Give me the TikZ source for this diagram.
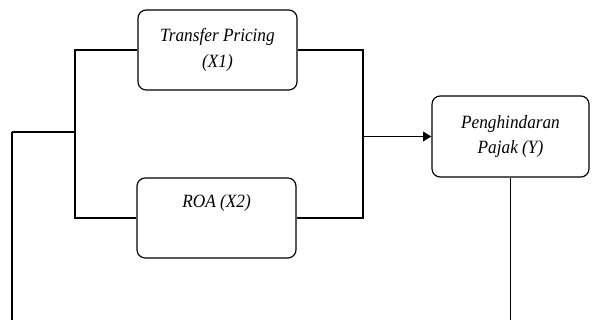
\documentclass[tikz,border=0pt]{standalone}
\usepackage{fontspec}
\setmainfont{Liberation Serif}[FakeStretch=0.92]
\usepackage{tikz}
\usetikzlibrary{arrows.meta}

\begin{document}
\begin{tikzpicture}[x=0.03cm, y=-0.03cm,
        every node/.style={font=\fontsize{16}{22}\selectfont\itshape},
        box/.style={draw, line width=1pt, rounded corners=7pt, align=center,
            minimum width=159*0.03cm, minimum height=80*0.03cm, inner sep=0pt},
        heavy/.style={line width=1.7pt},
        light/.style={line width=1pt}]
        \useasboundingbox (0,0) rectangle (593,320);

        \node[box] (x1) at (217.5,50) {Transfer Pricing\\(X1)};
        \node[box] (x2) at (216.5,218) {ROA (X2)\\\strut};
        \node[box, minimum width=157*0.03cm, minimum height=81*0.03cm] (y) at (510.5,136.5) {Penghindaran\\Pajak (Y)};

        \coordinate (lj) at (75,132);
        \coordinate (ll) at (12,132);
        \coordinate (lb) at (12,320);
        \coordinate (rj) at (363,136.5);
        \coordinate (yb) at (510.5,320);

        \draw[heavy] (x1.west) -| (lj) |- (x2.west);
        \draw[heavy] (lj) -- (ll);
        \draw[light] (ll) -- (lb);
        \draw[light] (x1.east) -| (rj) |- (x2.east);
        \draw[heavy, -{Triangle[length=7pt, width=8pt]}] (rj) -- (y.west);
        \draw[light] (y.south) -- (yb);
    \end{tikzpicture}
\end{document}
